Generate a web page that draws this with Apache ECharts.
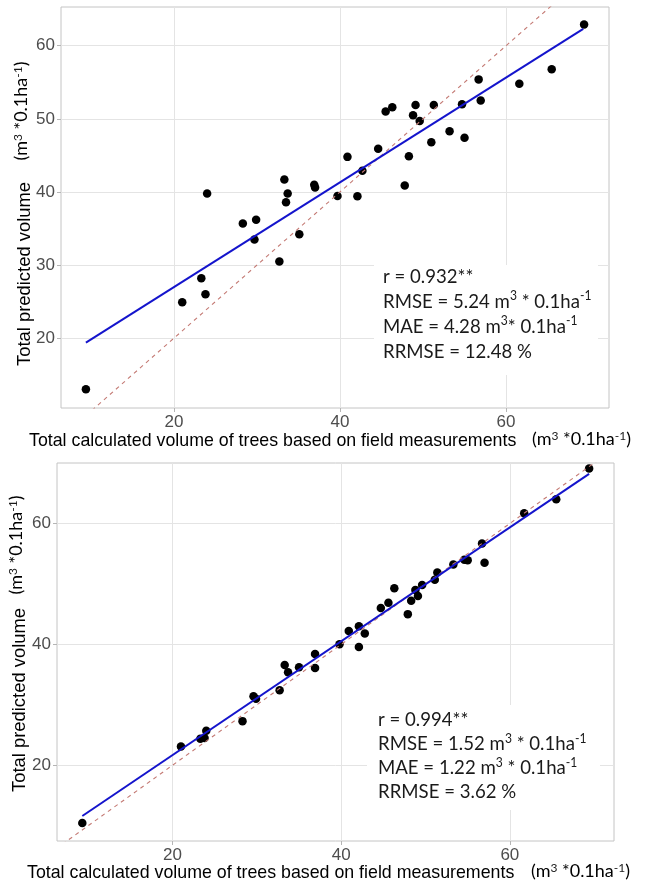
<!DOCTYPE html>
<html>
<head>
<meta charset="utf-8">
<script src="https://cdn.jsdelivr.net/npm/echarts@6/dist/echarts.min.js"></script>
<style>
  html, body { margin: 0; padding: 0; background: #ffffff; }
  #chart { width: 647px; height: 883px; }
</style>
</head>
<body>
<div id="chart"></div>
<script>
// Field-measured total volume (x) vs. predicted total volume (y), two models
const topMeasured = [9.4, 21.0, 23.3, 23.8, 24.0, 28.3, 29.7, 29.9, 32.7, 33.3, 33.5, 33.7, 35.1, 36.9, 37.0,
  39.7, 40.9, 42.1, 42.7, 44.6, 45.5, 46.3, 47.8, 48.3, 48.8, 49.1, 49.6, 51.0, 51.3, 53.2, 54.7, 55.0,
  56.7, 56.95, 61.6, 65.5, 69.4];
const topPredicted = [13.0, 24.9, 28.2, 26.0, 39.8, 35.7, 33.5, 36.2, 30.5, 41.7, 38.6, 39.8, 34.2, 41.0, 40.6,
  39.45, 44.8, 39.4, 42.9, 45.9, 51.0, 51.6, 40.9, 44.9, 50.5, 51.9, 49.7, 46.8, 51.9, 48.3, 52.0, 47.4,
  55.4, 52.5, 54.8, 56.8, 62.9];

const botMeasured = [9.3, 21.0, 23.3, 23.8, 24.0, 28.3, 29.6, 29.9, 32.7, 33.3, 33.7, 35.0, 36.9, 36.9, 39.8,
  40.9, 42.1, 42.1, 42.8, 44.7, 45.6, 46.3, 47.9, 48.3, 48.8, 49.1, 49.6, 51.1, 51.4, 53.3, 54.6, 55.0,
  56.7, 57.0, 61.7, 65.5, 69.4];
const botPredicted = [10.45, 23.1, 24.4, 24.5, 25.7, 27.3, 31.4, 31.0, 32.4, 36.6, 35.4, 36.2, 38.4, 36.1, 40.0,
  42.2, 43.0, 39.55, 41.8, 46.0, 46.9, 49.3, 45.0, 47.2, 49.0, 48.0, 49.8, 50.7, 51.9, 53.2, 54.0, 53.9,
  56.7, 53.5, 61.7, 64.0, 69.1];

// Fitted regression line end points
const topFitX = [9.4, 69.3];
const topFitY = [19.4, 62.3];
const botFitX = [9.3, 69.4];
const botFitY = [11.6, 68.2];

// 1:1 reference line
const identityX = [0, 80];
const identityY = [0, 80];

// Axis ranges and labelled ticks
const topXRange = [6.4, 72.4];
const topYRange = [10.45, 65.3];
const botXRange = [6.3, 72.35];
const botYRange = [7.47, 70.0];
const xTickLabels = [20, 40, 60];
const topYTickLabels = [20, 30, 40, 50, 60];
const botYTickLabels = [20, 40, 60];

// Fit statistics (rich-text markup: {s|...} is superscript)
const topStats = [
  'r = 0.932**',
  'RMSE = 5.24 m{s|3} * 0.1ha{s|-1}',
  'MAE = 4.28 m{s|3}* 0.1ha{s|-1}',
  'RRMSE = 12.48 %'
];
const botStats = [
  'r = 0.994**',
  'RMSE = 1.52 m{s|3} * 0.1ha{s|-1}',
  'MAE = 1.22 m{s|3} * 0.1ha{s|-1}',
  'RRMSE = 3.62 %'
];

const xTitle = 'Total calculated volume of trees based on field measurements';
const yTitle = 'Total predicted volume';
const unitText = '(m{s|3} *0.1ha{s|-1})';

const pairs = (xs, ys) => xs.map((x, i) => [x, ys[i]]);

const GRID_COLOR = '#e4e4e4';
const TICK_COLOR = '#b5b5b5';
const LABEL_FONT = 'Liberation Sans';
const STAT_FONT = 'Lato';

function valueAxis(gridIndex, range, splitNumber, labels) {
  return {
    type: 'value',
    gridIndex: gridIndex,
    min: range[0],
    max: range[1],
    splitNumber: splitNumber,
    axisLine: { show: false },
    axisTick: { show: true, customValues: labels, length: 4, lineStyle: { color: TICK_COLOR, width: 1 } },
    axisLabel: {
      customValues: labels,
      fontFamily: LABEL_FONT, fontSize: 17, color: '#4d4d4d', margin: 6
    },
    splitLine: { show: true, lineStyle: { color: GRID_COLOR, width: 1 } }
  };
}

function panelSeries(idx, mx, py, fx, fy) {
  return [
    {
      type: 'scatter', xAxisIndex: idx, yAxisIndex: idx,
      data: pairs(mx, py), symbol: 'circle', symbolSize: 8.5,
      itemStyle: { color: '#000000', opacity: 1 }, silent: true, z: 2
    },
    {
      type: 'line', xAxisIndex: idx, yAxisIndex: idx,
      data: pairs(identityX, identityY), showSymbol: false, clip: true,
      lineStyle: { color: '#c47a74', width: 1.1, type: [4, 4] }, silent: true, z: 3
    },
    {
      type: 'line', xAxisIndex: idx, yAxisIndex: idx,
      data: pairs(fx, fy), showSymbol: false, clip: true,
      lineStyle: { color: '#1414cc', width: 2 }, silent: true, z: 4
    }
  ];
}

const supRich = (size) => ({ s: { fontSize: size, fontFamily: STAT_FONT, fill: '#1a1a1a', verticalAlign: 'top', lineHeight: size } });

function statsBlock(box, textX, textY, lines, lineH) {
  return [
    { type: 'rect', shape: { x: box[0], y: box[1], width: box[2], height: box[3] },
      style: { fill: '#ffffff' }, z: 50, silent: true },
    { type: 'text', x: textX, y: textY, scaleX: 0.93, z: 51, silent: true,
      style: {
        text: lines.join('\n'), fill: '#1a1a1a', fontFamily: STAT_FONT, fontSize: 20,
        lineHeight: lineH, align: 'left', verticalAlign: 'top', rich: supRich(13)
      } }
  ];
}

function xTitleBlock(x, unitX, y) {
  return [
    { type: 'text', x: x, y: y, z: 51, silent: true,
      style: { text: xTitle, fill: '#000000', fontFamily: LABEL_FONT, fontSize: 17.8, align: 'left', verticalAlign: 'middle' } },
    { type: 'text', x: unitX, y: y - 2, z: 51, silent: true,
      style: { text: unitText, fill: '#000000', fontFamily: STAT_FONT, fontSize: 18, align: 'left', verticalAlign: 'middle', rich: supRich(12) } }
  ];
}

function yTitleBlock(cx, cy, ux, uy) {
  return [
    { type: 'text', x: cx, y: cy, rotation: Math.PI / 2, z: 51, silent: true,
      style: { text: yTitle, fill: '#000000', fontFamily: LABEL_FONT, fontSize: 18.4, align: 'center', verticalAlign: 'middle' } },
    { type: 'text', x: ux, y: uy, rotation: Math.PI / 2, z: 51, silent: true,
      style: { text: unitText, fill: '#000000', fontFamily: STAT_FONT, fontSize: 18, align: 'center', verticalAlign: 'middle', rich: supRich(12) } }
  ];
}

const chart = echarts.init(document.getElementById('chart'), null, { renderer: 'canvas' });

chart.setOption({
  animation: false,
  backgroundColor: '#ffffff',
  grid: [
    { left: 61, top: 7, width: 548, height: 401, show: true, borderColor: '#c4c4c4', borderWidth: 1, backgroundColor: 'transparent' },
    { left: 57, top: 463, width: 557, height: 378, show: true, borderColor: '#c4c4c4', borderWidth: 1, backgroundColor: 'transparent' }
  ],
  xAxis: [
    valueAxis(0, topXRange, 6, xTickLabels),
    valueAxis(1, botXRange, 6, xTickLabels)
  ],
  yAxis: [
    valueAxis(0, topYRange, 10, topYTickLabels),
    valueAxis(1, botYRange, 6, botYTickLabels)
  ],
  series: [
    ...panelSeries(0, topMeasured, topPredicted, topFitX, topFitY),
    ...panelSeries(1, botMeasured, botPredicted, botFitX, botFitY)
  ],
  graphic: [
    ...statsBlock([374, 265, 224, 110], 383, 264.5, topStats, 25),
    ...statsBlock([367, 705, 233, 105], 378, 708, botStats, 24),
    ...xTitleBlock(29, 532, 441),
    ...xTitleBlock(27, 531, 873),
    ...yTitleBlock(25, 274, 21, 111),
    ...yTitleBlock(20, 700, 16, 545)
  ]
});
</script>
</body>
</html>
